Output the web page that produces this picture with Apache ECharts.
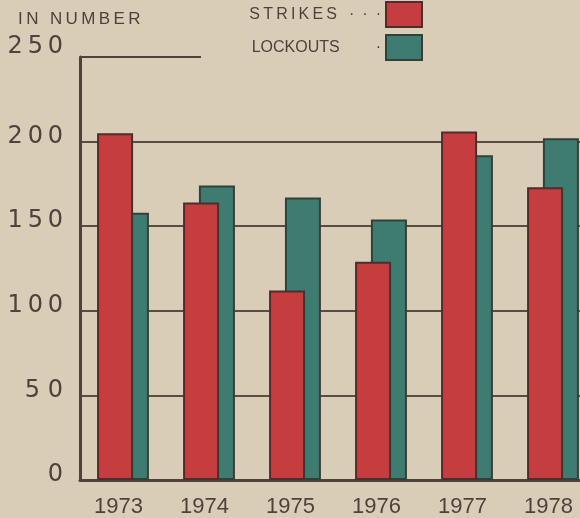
<!DOCTYPE html>
<html>
<head>
<meta charset="utf-8">
<script src="https://cdn.jsdelivr.net/npm/echarts@6/dist/echarts.min.js"></script>
<style>
  html, body { margin: 0; padding: 0; background: #dacdb8; }
  #main { width: 580px; height: 518px; }
</style>
</head>
<body>
<div id="main"></div>
<script>
// data
const years = ['1973', '1974', '1975', '1976', '1977', '1978'];
const strikes = [205, 164, 112, 129, 206, 173];
const lockouts = [158, 174, 167, 154, 192, 202];
const yTicks = [0, 50, 100, 150, 200, 250];

const ink = '#4d433c';
const thin = '\u2009';
const spaced = s => s.split('').join(thin);

const chart = echarts.init(document.getElementById('main'));

chart.setOption({
  backgroundColor: '#dacdb8',
  animation: false,
  textStyle: { fontFamily: 'Liberation Sans', color: ink },
  title: {
    text: spaced('IN NUMBER'),
    left: 13, top: 6,
    textStyle: { fontSize: 17, fontWeight: 'normal', color: ink, fontFamily: 'Liberation Sans' }
  },
  legend: {
    orient: 'vertical',
    right: 152, top: -4,
    align: 'right',
    itemWidth: 36, itemHeight: 25, itemGap: 6,
    icon: 'rect',
    formatter: n => n === 'STRIKES'
      ? '{t|' + spaced('STRIKES') + '}{d|·\u2002·\u2002·}'
      : '{t|LOCKOUTS}{e|·}',
    textStyle: {
      color: ink,
      rich: {
        t: { fontSize: 16, color: ink },
        d: { fontSize: 16, color: ink, padding: [0, 0, 0, 12] },
        e: { fontSize: 16, color: ink, padding: [0, 0, 0, 36] }
      }
    }
  },
  grid: { left: 80, top: 57, width: 516, height: 423, outerBoundsMode: 'none' },
  xAxis: {
    type: 'category',
    data: years,
    axisTick: { show: false },
    axisLine: { lineStyle: { color: ink, width: 3 } },
    axisLabel: { fontSize: 22, color: ink, margin: 16, padding: [0, 9, 0, 0] }
  },
  yAxis: {
    type: 'value',
    min: yTicks[0], max: yTicks[yTicks.length - 1], interval: 50,
    axisLine: { show: true, lineStyle: { color: ink, width: 3 } },
    axisTick: { show: false },
    splitLine: { show: true, showMaxLine: false, lineStyle: { color: '#5a4c43', width: 2 } },
    axisLabel: {
      margin: 17,
      color: ink,
      formatter: v => v === 250 ? '{hi|' + spaced('250') + '}' : '{n|' + (v === 50 ? '5 0' : spaced(String(v))) + '}',
      rich: {
        n: { fontSize: 24, fontFamily: 'DejaVu Sans', color: ink, padding: [0, 0, 10, 0] },
        hi: { fontSize: 24, fontFamily: 'DejaVu Sans', color: ink, padding: [0, 0, 20, 0] }
      }
    }
  },
  series: [
    {
      name: 'STRIKES', type: 'bar', data: strikes,
      barWidth: 36, barGap: '-56%', z: 3,
      itemStyle: { color: '#c63d40', borderColor: '#4a2f2c', borderWidth: 2 }
    },
    {
      name: 'LOCKOUTS', type: 'bar', data: lockouts,
      barWidth: 36, z: 2,
      itemStyle: { color: '#3e7c72', borderColor: '#33403a', borderWidth: 2 }
    }
  ]
});

// the 250 rule only runs part way across in the original
const y250 = chart.convertToPixel({ yAxisIndex: 0 }, 250);
chart.setOption({
  graphic: [{
    type: 'line',
    shape: { x1: 80, y1: y250, x2: 201, y2: y250 },
    style: { stroke: ink, lineWidth: 2 }
  }]
});
</script>
</body>
</html>
